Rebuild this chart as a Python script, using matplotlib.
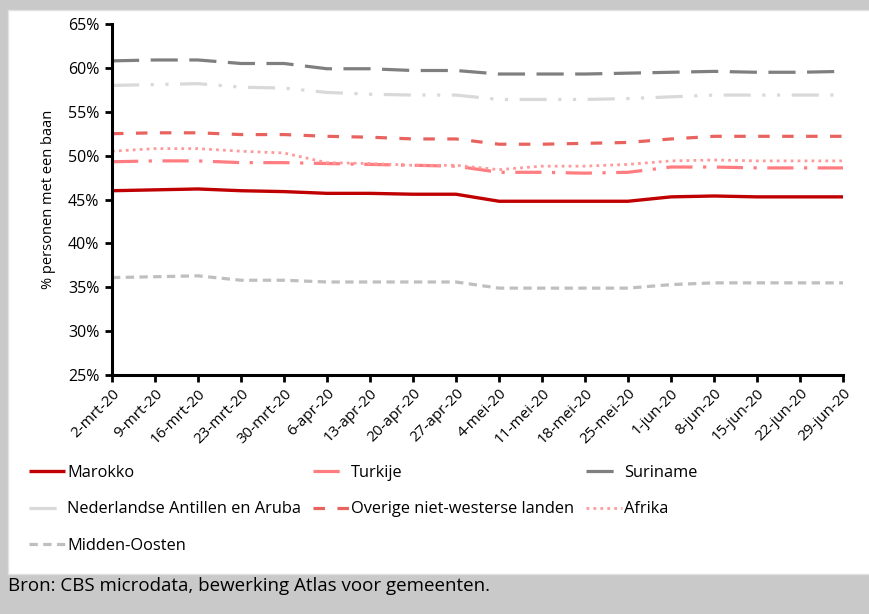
import matplotlib
matplotlib.use("Agg")
import matplotlib.pyplot as plt
from matplotlib.patches import Rectangle
from matplotlib.ticker import FuncFormatter

plt.rcParams['font.family'] = ['Open Sans', 'DejaVu Sans']

dates = ["2-mrt-20", "9-mrt-20", "16-mrt-20", "23-mrt-20", "30-mrt-20", "6-apr-20",
         "13-apr-20", "20-apr-20", "27-apr-20", "4-mei-20", "11-mei-20", "18-mei-20",
         "25-mei-20", "1-jun-20", "8-jun-20", "15-jun-20", "22-jun-20", "29-jun-20"]

marokko = [46.0, 46.1, 46.2, 46.0, 45.9, 45.7, 45.7, 45.6, 45.6, 44.8, 44.8, 44.8,
           44.8, 45.3, 45.4, 45.3, 45.3, 45.3]
turkije = [49.3, 49.4, 49.4, 49.2, 49.2, 49.1, 49.0, 48.9, 48.8, 48.1, 48.1, 48.0,
           48.1, 48.7, 48.7, 48.6, 48.6, 48.6]
suriname = [60.8, 60.9, 60.9, 60.5, 60.5, 59.9, 59.9, 59.7, 59.7, 59.3, 59.3, 59.3,
            59.4, 59.5, 59.6, 59.5, 59.5, 59.6]
antillen = [58.0, 58.1, 58.2, 57.8, 57.7, 57.2, 57.0, 56.9, 56.9, 56.4, 56.4, 56.4,
            56.5, 56.7, 56.9, 56.9, 56.9, 56.9]
overige = [52.5, 52.6, 52.6, 52.4, 52.4, 52.2, 52.1, 51.9, 51.9, 51.3, 51.3, 51.4,
           51.5, 51.9, 52.2, 52.2, 52.2, 52.2]
afrika = [50.5, 50.8, 50.8, 50.5, 50.3, 49.2, 49.1, 48.9, 48.9, 48.4, 48.8, 48.8,
          49.0, 49.4, 49.5, 49.4, 49.4, 49.4]
midden_oosten = [36.1, 36.2, 36.3, 35.8, 35.8, 35.6, 35.6, 35.6, 35.6, 34.9, 34.9, 34.9,
                 34.9, 35.3, 35.5, 35.5, 35.5, 35.5]

yticks = [25, 30, 35, 40, 45, 50, 55, 60, 65]

fig = plt.figure(figsize=(8.7, 6.14), dpi=100)
fig.patch.set_facecolor('#c9c9c9')
W, H = 870, 614
fig.patches.append(Rectangle((8 / W, 1 - 574 / H), (W - 8) / W, (574 - 10) / H,
                             transform=fig.transFigure, facecolor='white',
                             edgecolor='#e2e2e2', lw=1, zorder=-10))

ax = fig.add_axes([112 / W, 1 - 375 / H, (843 - 112) / W, (375 - 24) / H])
ax.set_facecolor('none')
x = list(range(len(dates)))

lw = 2.3
series = [
    ("Marokko", marokko, dict(color='#c00000', lw=2.4, ls='-')),
    ("Nederlandse Antillen en Aruba", antillen,
     dict(color='#d9d9d9', lw=lw, ls=(0, (8.5, 3.6, 1, 3.6, 1, 3.6)))),
    ("Midden-Oosten", midden_oosten, dict(color='#bfbfbf', lw=lw, ls=(0, (2.6, 1.7)))),
    ("Turkije", turkije, dict(color='#ff7c80', lw=lw, ls=(0, (8.2, 3.3, 1, 3.3)))),
    ("Overige niet-westerse landen", overige, dict(color='#e8635e', lw=lw, ls=(0, (3.6, 3.9)))),
    ("Suriname", suriname, dict(color='#7f7f7f', lw=lw, ls=(0, (8.5, 3.6)))),
    ("Afrika", afrika, dict(color='#ff9a9a', lw=2.0, ls=(0, (1, 1.5)))),
]

handles = []
for name, vals, st in series:
    h, = ax.plot(x, vals, label=name, solid_capstyle='butt', dash_capstyle='butt', **st)
    handles.append(h)

ax.set_xlim(0, len(dates) - 1)
ax.set_ylim(25, 65)
ax.set_yticks(yticks)
ax.yaxis.set_major_formatter(FuncFormatter(lambda v, p: f"{int(v)}%"))
ax.set_xticks(x)
ax.set_xticklabels(dates, rotation=45, ha='right', rotation_mode='anchor', fontsize=11)
ax.tick_params(axis='y', labelsize=11.5, length=5, width=2, direction='out', pad=4)
ax.tick_params(axis='x', length=5, width=2, direction='out', pad=3)
for s in ['top', 'right']:
    ax.spines[s].set_visible(False)
for s in ['left', 'bottom']:
    ax.spines[s].set_linewidth(2.2)
    ax.spines[s].set_color('black')
ax.set_ylabel("% personen met een baan", fontsize=10.5, labelpad=9)

leg = fig.legend(handles=handles, labels=[s[0] for s in series], ncol=3,
                 loc='upper left', bbox_to_anchor=(14 / W, 1 - 450 / H),
                 frameon=False, fontsize=11.8, handlelength=2.2, handletextpad=0.15,
                 labelspacing=1.25, columnspacing=0.7)

fig.text(8 / W, 1 - 586 / H, "Bron: CBS microdata, bewerking Atlas voor gemeenten.",
         fontsize=13.5, va='center', ha='left')

fig.savefig("out.png", dpi=100, facecolor=fig.get_facecolor())
